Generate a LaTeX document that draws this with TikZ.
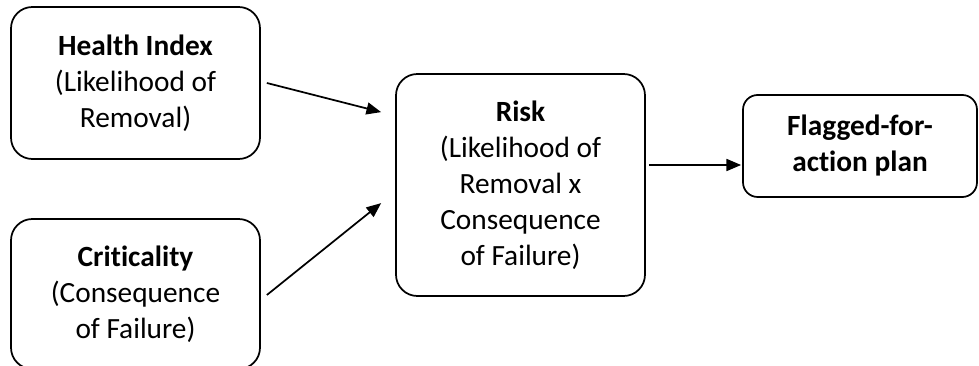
\documentclass[tikz,border=0pt]{standalone}
\usepackage{fontspec}
\setmainfont{Carlito}[RawFeature=-liga]
\usetikzlibrary{arrows.meta}
\tikzset{
  box/.style={draw=black, line width=1.3pt, rounded corners=16pt, align=center,
    inner sep=0pt, font=\fontsize{22}{27}\selectfont},
  smallbox/.style={box, rounded corners=11pt},
  conn/.style={draw=black, line width=1.3pt, -{Triangle[length=11pt,width=9pt]}}
}
\begin{document}
\begin{tikzpicture}[x=0.75pt,y=-0.75pt]
\useasboundingbox (0,0) rectangle (979,366);
\node[box, minimum width=249*0.75pt, minimum height=152*0.75pt] (hi) at (135.5,83)
  {\textbf{Health Index}\\(Likelihood of\\Removal)};
\node[box, minimum width=249*0.75pt, minimum height=150*0.75pt] (crit) at (135.5,294)
  {\textbf{Criticality}\\(Consequence\\of Failure)};
\node[box, minimum width=249*0.75pt, minimum height=222*0.75pt] (risk) at (520.5,185)
  {\textbf{Risk}\\(Likelihood of\\Removal x\\Consequence\\of Failure)};
\node[smallbox, minimum width=234*0.75pt, minimum height=102*0.75pt] (flag) at (860,146)
  {\textbf{Flagged-for-}\\\textbf{action plan}};
\draw[conn] ([shift={(6,0)}]hi.east) -- ([shift={(-14,39)}]risk.north west);
\draw[conn] ([shift={(6,1)}]crit.east) -- ([shift={(-14,130)}]risk.north west);
\draw[conn] ([shift={(3,-20)}]risk.east) -- ([shift={(-1,19)}]flag.west);
\end{tikzpicture}
\end{document}
